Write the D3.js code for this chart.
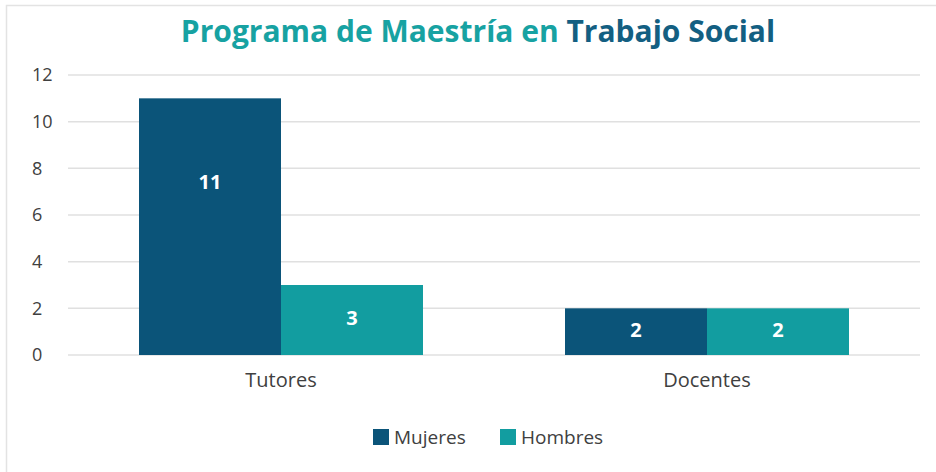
<!DOCTYPE html>
<html lang="es">
<head>
<meta charset="UTF-8" />
<title>Programa de Maestría en Trabajo Social</title>
<script src="https://d3js.org/d3.v7.js"></script>
<style>
    body { margin: 0; background: #fff; }
    svg { display: block; }
</style>
</head>
<body>
<script>
    var w = 936;
    var h = 472;

    // data
    var categories = ["Tutores", "Docentes"];
    var seriesNames = ["Mujeres", "Hombres"];
    var mujeres = [11, 2];
    var hombres = [3, 2];
    var yTicks = [0, 2, 4, 6, 8, 10, 12];
    var colors = ["#0b5479", "#129da0"];

    var plotLeft = 68, plotRight = 920, plotTop = 75, plotBottom = 355;
    var font = "'Open Sans', sans-serif";

    var svg = d3.select("body")
        .append("svg")
        .attr("width", w)
        .attr("height", h);

    // frame
    svg.append("rect")
        .attr("x", 6.5)
        .attr("y", 5.5)
        .attr("width", w)
        .attr("height", h)
        .attr("fill", "#fff")
        .attr("stroke", "#e3e3e3")
        .attr("stroke-width", 1.5);

    // title
    var title = svg.append("text")
        .attr("x", 478)
        .attr("y", 42)
        .attr("text-anchor", "middle")
        .style("font-family", font)
        .style("font-weight", "bold")
        .style("font-size", "30px");
    title.append("tspan").attr("fill", "#17a2a2").text("Programa de Maestría en ");
    title.append("tspan").attr("fill", "#135f82").text("Trabajo Social");

    var xScale = d3.scaleBand()
        .domain(categories)
        .range([plotLeft, plotRight])
        .paddingInner(1 / 3)
        .paddingOuter(1 / 6);

    var xSub = d3.scaleBand()
        .domain(seriesNames)
        .range([0, xScale.bandwidth()]);

    var yScale = d3.scaleLinear()
        .domain([0, 12])
        .range([plotBottom, plotTop]);

    // gridlines
    svg.append("g")
        .selectAll("line")
        .data(yTicks)
        .enter()
        .append("line")
        .attr("x1", plotLeft)
        .attr("x2", plotRight)
        .attr("y1", function (d) { return yScale(d); })
        .attr("y2", function (d) { return yScale(d); })
        .attr("stroke", "#e0e0e0")
        .attr("stroke-width", 1.5);

    // y axis labels (left aligned like the original)
    var yAxis = d3.axisLeft(yScale).tickValues(yTicks).tickSize(0).tickPadding(0);
    var yg = svg.append("g")
        .attr("transform", "translate(32,0)")
        .call(yAxis);
    yg.select(".domain").remove();
    yg.selectAll("text")
        .attr("text-anchor", "start")
        .attr("fill", "#404040")
        .style("font-family", font)
        .style("font-size", "18px");

    // bars
    var rows = categories.map(function (c, i) {
        return { cat: c, values: [mujeres[i], hombres[i]] };
    });

    var groups = svg.selectAll(".grp")
        .data(rows)
        .enter()
        .append("g")
        .attr("class", "grp")
        .attr("transform", function (d) { return "translate(" + xScale(d.cat) + ",0)"; });

    var cells = groups.selectAll("g")
        .data(function (d) {
            return d.values.map(function (v, j) { return { s: seriesNames[j], v: v, j: j }; });
        })
        .enter()
        .append("g");

    cells.append("rect")
        .attr("x", function (d) { return xSub(d.s); })
        .attr("y", function (d) { return yScale(d.v); })
        .attr("width", xSub.bandwidth())
        .attr("height", function (d) { return yScale(0) - yScale(d.v); })
        .attr("fill", function (d) { return colors[d.j]; });

    // labels sit in the middle of short bars, nearer the top on tall ones
    cells.append("text")
        .attr("x", function (d) { return xSub(d.s) + xSub.bandwidth() / 2; })
        .attr("y", function (d) {
            var mid = (yScale(d.v) + yScale(0)) / 2;
            return Math.min(mid - 2, yScale(d.v) + 83);
        })
        .attr("dy", "0.36em")
        .attr("text-anchor", "middle")
        .attr("fill", "#fff")
        .style("font-family", font)
        .style("font-weight", "bold")
        .style("font-size", "20px")
        .text(function (d) { return d.v; });

    // x axis labels
    var xAxis = d3.axisBottom(xScale).tickSize(0).tickPadding(0);
    var xg = svg.append("g")
        .attr("transform", "translate(0,373)")
        .call(xAxis);
    xg.select(".domain").remove();
    xg.selectAll("text")
        .attr("fill", "#404040")
        .style("font-family", font)
        .style("font-size", "20px");

    // legend
    var legendX = [373, 500];
    var legend = svg.selectAll(".leg")
        .data(seriesNames)
        .enter()
        .append("g")
        .attr("class", "leg")
        .attr("transform", function (d, i) { return "translate(" + legendX[i] + ",429)"; });

    legend.append("rect")
        .attr("width", 16)
        .attr("height", 16)
        .attr("fill", function (d, i) { return colors[i]; });

    legend.append("text")
        .attr("x", 21)
        .attr("y", 8)
        .attr("dy", "0.36em")
        .attr("fill", "#404040")
        .style("font-family", font)
        .style("font-size", "19px")
        .text(function (d) { return d; });
</script>
</body>
</html>
